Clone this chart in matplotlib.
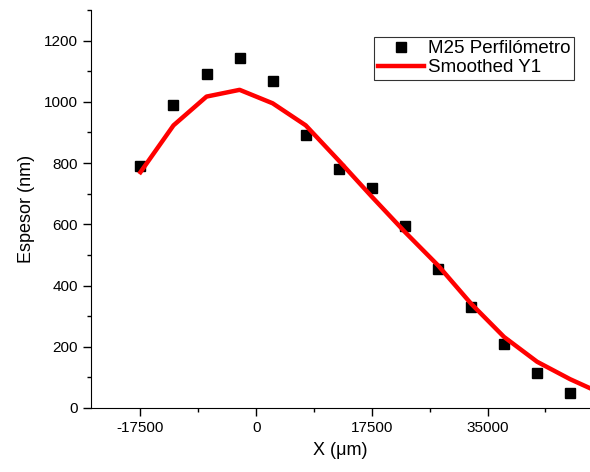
import numpy as np
import matplotlib
matplotlib.use("Agg")
import matplotlib.pyplot as plt
from matplotlib.ticker import MultipleLocator

plt.rcParams['font.family'] = ['Liberation Sans', 'DejaVu Sans']
plt.rcParams['axes.unicode_minus'] = False  # guion simple en "-17500"

# datos medidos (perfilómetro)
x_pts = [-17500, -12500, -7500, -2500, 2500, 7500, 12500, 17500, 22500, 27500, 32500, 37500, 42500, 47500]
y_pts = [790, 990, 1091, 1144, 1069, 890, 779, 720, 594, 455, 330, 209, 115, 49]

# curva suavizada
x_smooth = [-17500, -12500, -7500, -2500, 2500, 7500, 12500, 17500, 22500, 27500, 32500, 37500, 42500, 47500, 52500]
y_smooth = [770, 923, 1017, 1039, 995, 923, 808, 690, 575, 466, 341, 232, 151, 94, 45]

fig = plt.figure(figsize=(5.9, 4.72), dpi=100)
ax = fig.add_axes([0.154, 0.1356, 0.846, 0.8434])

ax.plot(x_pts, y_pts, 's', color='k', markersize=6.5, label='M25 Perfilómetro')
ax.plot(x_smooth, y_smooth, '-', color='#ff0000', linewidth=3.2, label='Smoothed Y1')

ax.set_xlim(-25000, 50500)
ax.set_ylim(0, 1300)
ax.set_xticks([-17500, 0, 17500, 35000])
ax.xaxis.set_minor_locator(MultipleLocator(8750))
ax.set_yticks(np.arange(0, 1201, 200))
ax.yaxis.set_minor_locator(MultipleLocator(100))

ax.spines['top'].set_visible(False)
ax.spines['right'].set_visible(False)
ax.tick_params(which='major', direction='out', length=5.5, width=1, labelsize=11, pad=4)
ax.tick_params(which='minor', direction='out', length=3, width=1)

ax.set_xlabel('X (μm)', fontsize=13, labelpad=5)
ax.set_ylabel('Espesor (nm)', fontsize=13, labelpad=6)

leg = ax.legend(loc='upper left', bbox_to_anchor=(0.567, 0.933), fontsize=13.5, frameon=True,
                fancybox=False, edgecolor='k', handlelength=2.45, borderpad=0.2,
                labelspacing=0.1, handletextpad=0.25, borderaxespad=0)
leg.get_frame().set_linewidth(0.8)

plt.savefig("out.png", dpi=100)
